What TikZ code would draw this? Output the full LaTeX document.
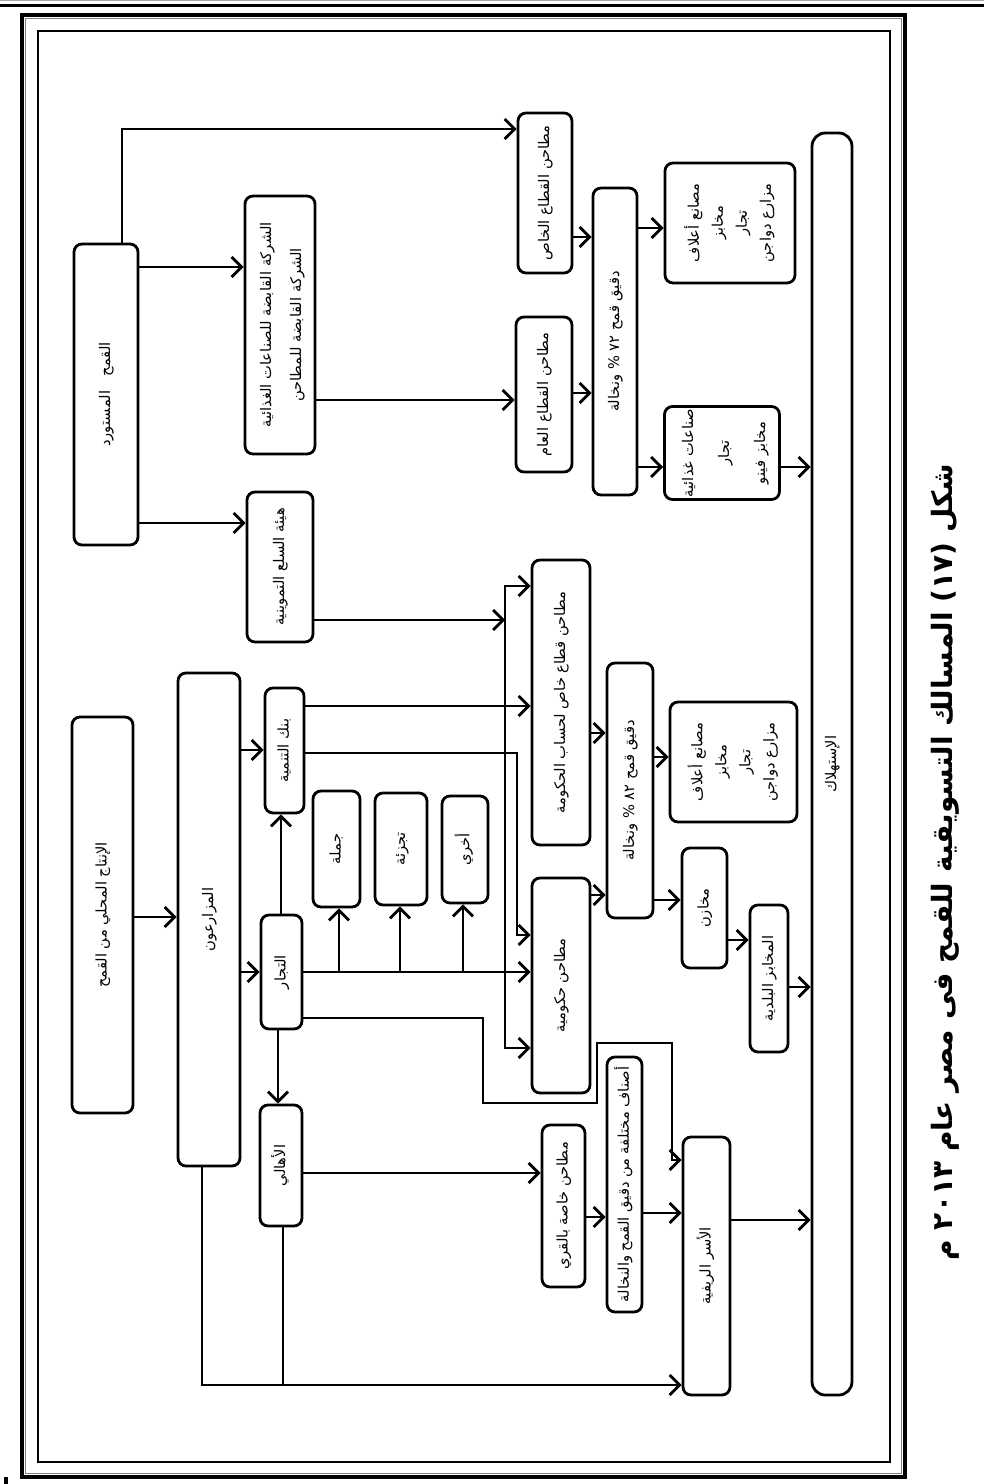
\documentclass[tikz,border=0pt]{standalone}
\usepackage{fontspec}
\usepackage{graphicx}
\usetikzlibrary{arrows.meta}
\newfontfamily\arabicfont[Script=Arabic]{DejaVu Sans}
\TeXXeTstate=1
\newlength{\du}
\setlength{\du}{0.75pt}
\newcommand{\artxt}[1]{\beginR #1\endR}
\newcommand{\vtext}[2][1]{\rotatebox{90}{\renewcommand{\arraystretch}{#1}\begin{tabular}{@{}c@{}}#2\end{tabular}}}
\tikzset{
  box/.style={draw, line width=2.1pt, rounded corners=6pt, inner sep=0pt,
    font=\arabicfont\fontsize{11}{15}\selectfont},
  >={Straight Barb[length=7.5pt,width=15pt]},
  every path/.append style={line width=2.1pt},
}

\begin{document}
\begin{tikzpicture}
\pgftransformxscale{1.000000}
\pgftransformyscale{-1.000000}
\useasboundingbox (0,0) rectangle (984\du,1484\du);
% page frame
\draw[gray!70, line width=0.75pt] (0,1\du) -- (984\du,1\du);
\draw[line width=2.2pt] (0,5.5\du) -- (984\du,5.5\du);
\draw[line width=2.6pt] (22\du,15\du) rectangle (905\du,1477\du);
\draw[gray, line width=0.75pt] (25.5\du,18.5\du) rectangle (901.5\du,1473.5\du);
\draw[line width=1pt] (38\du,31\du) rectangle (890\du,1462\du);
\fill (4\du,1477\du) rectangle (8\du,1484\du);

% imported wheat
\node[box, minimum width=64\du, minimum height=301\du] (imp) at (106\du,394.5\du) {\vtext{\artxt{القمح\quad المستورد}}};
\node[box, minimum width=70\du, minimum height=258\du] (hold) at (280\du,325\du) {\vtext[1.5]{\artxt{الشركة القابضة للصناعات الغذائية}\\ \artxt{الشركة القابضة للمطاحن}}};
\node[box, minimum width=66\du, minimum height=150\du] (gsa) at (280\du,567\du) {\vtext{\artxt{هيئة السلع التموينية}}};
\node[box, minimum width=54\du, minimum height=160\du] (privm) at (545\du,193\du) {\vtext{\artxt{مطاحن القطاع الخاص}}};
\node[box, minimum width=56\du, minimum height=155\du] (pubm) at (544\du,394.5\du) {\vtext{\artxt{مطاحن القطاع العام}}};
\node[box, minimum width=44\du, minimum height=307\du] (fl72) at (615\du,341.5\du) {\vtext{\artxt{دقيق قمح ٧٢ \% ونخالة}}};
\node[box, minimum width=130\du, minimum height=120\du] (feed1) at (730\du,223\du) {\vtext[1.2]{\artxt{مصانع أعلاف}\\ \artxt{مخابز}\\ \artxt{تجار}\\ \artxt{مزارع دواجن}}};
\node[box, minimum width=115\du, minimum height=93\du] (food) at (722\du,453\du) {\vtext[1.8]{\artxt{صناعات غذائية}\\ \artxt{تجار}\\ \artxt{مخابز فينو}}};
\node[box, rounded corners=10pt, minimum width=40\du, minimum height=1262\du] (cons) at (832\du,764\du) {\vtext{\artxt{الإستهلاك}}};

% local production
\node[box, minimum width=61\du, minimum height=396\du] (local) at (102.5\du,915\du) {\vtext{\artxt{الإنتاج المحلي من القمح}}};
\node[box, minimum width=62\du, minimum height=493\du] (farm) at (209\du,919.5\du) {\vtext{\artxt{المزارعون}}};
\node[box, minimum width=39\du, minimum height=125\du] (bank) at (284.5\du,750.5\du) {\vtext{\artxt{بنك التنمية}}};
\node[box, minimum width=41\du, minimum height=114\du] (trad) at (281.5\du,972\du) {\vtext{\artxt{التجار}}};
\node[box, minimum width=42\du, minimum height=121\du] (ahali) at (281\du,1165.5\du) {\vtext{\artxt{الأهالي}}};
\node[box, minimum width=47\du, minimum height=116\du] (whole) at (336.5\du,849\du) {\vtext{\artxt{جملة}}};
\node[box, minimum width=52\du, minimum height=112\du] (retail) at (401\du,849\du) {\vtext{\artxt{تجزئة}}};
\node[box, minimum width=46\du, minimum height=107\du] (other) at (465\du,849.5\du) {\vtext{\artxt{أخري}}};
\node[box, minimum width=58\du, minimum height=285\du] (gpriv) at (561\du,702.5\du) {\vtext{\artxt{مطاحن قطاع خاص لحساب الحكومة}}};
\node[box, minimum width=58\du, minimum height=215\du] (gov) at (561\du,985.5\du) {\vtext{\artxt{مطاحن حكومية}}};
\node[box, minimum width=46\du, minimum height=255\du] (fl82) at (630\du,790.5\du) {\vtext{\artxt{دقيق قمح ٨٢ \% ونخالة}}};
\node[box, minimum width=127\du, minimum height=120\du] (feed2) at (733.5\du,762\du) {\vtext[1.2]{\artxt{مصانع أعلاف}\\ \artxt{مخابز}\\ \artxt{تجار}\\ \artxt{مزارع دواجن}}};
\node[box, minimum width=45\du, minimum height=120\du] (store) at (704.5\du,908\du) {\vtext{\artxt{مخازن}}};
\node[box, minimum width=38\du, minimum height=147\du] (bakery) at (769\du,978.5\du) {\vtext{\artxt{المخابز البلدية}}};
\node[box, minimum width=43\du, minimum height=162\du] (village) at (563.5\du,1206\du) {\vtext{\artxt{مطاحن خاصة بالقري}}};
\node[box, minimum width=35\du, minimum height=255\du] (kinds) at (624.5\du,1184.5\du) {\vtext{\artxt{أصناف مختلفة من دقيق القمح والنخالة}}};
\node[box, minimum width=47\du, minimum height=258\du] (rural) at (706.5\du,1266\du) {\vtext{\artxt{الأسر الريفية}}};

% caption
\node[font=\arabicfont\bfseries\fontsize{21}{25}\selectfont] (cap) at (945\du,862\du) {\rotatebox{90}{\artxt{شكل (١٧) المسالك التسويقية للقمح فى مصر عام ٢٠١٣ م}}};

% imported wheat flows
\draw[->] (imp.north -| 122\du,0) -- (122\du,129\du) -- (privm.west |- 0,129\du);
\draw[->] (imp.east |- 0,267\du) -- (hold.west |- 0,267\du);
\draw[->] (imp.east |- 0,523\du) -- (gsa.west |- 0,523\du);
\draw[->] (hold.east |- 0,400\du) -- (pubm.west |- 0,400\du);
\coordinate (gsaend) at (505\du,620\du);
\draw[->] (gsa.east |- gsaend) -- (gsaend);
\coordinate (bustop) at (505\du,586\du);
\coordinate (busbot) at (505\du,1048\du);
\draw[<->] (gpriv.west |- bustop) -- (bustop) -- (busbot) -- (gov.west |- busbot);
\draw[->] (privm.east |- 0,237\du) -- (fl72.west |- 0,237\du);
\draw[->] (pubm.east |- 0,393\du) -- (fl72.west |- 0,393\du);
\draw[->] (fl72.east |- 0,228\du) -- (feed1.west |- 0,228\du);
\draw[->] (fl72.east |- 0,467\du) -- (food.west |- 0,467\du);
\draw[->] (food.east |- 0,467\du) -- (cons.west |- 0,467\du);

% local flows
\draw[->] (local.east |- 0,917\du) -- (farm.west |- 0,917\du);
\draw[->] (farm.east |- 0,750\du) -- (bank.west |- 0,750\du);
\draw[->] (farm.east |- 0,972\du) -- (trad.west |- 0,972\du);
\draw[->] (trad.north -| 281\du,0) -- (bank.south -| 281\du,0);
\draw[->] (trad.south -| 278\du,0) -- (ahali.north -| 278\du,0);
\draw[->] (trad.east |- 0,972\du) -- (gov.west |- 0,972\du);
\foreach \bx/\xx in {whole/339, retail/400, other/463}
  \draw[->] (\xx\du,972\du) -- (\bx.south -| \xx\du,0);
\draw[->] (bank.east |- 0,706\du) -- (gpriv.west |- 0,706\du);
\draw[->] (bank.east |- 0,753\du) -- (517\du,753\du) -- (517\du,935\du) -- (gov.west |- 0,935\du);
\draw[->] (trad.east |- 0,1018\du) -- (483\du,1018\du) -- (483\du,1103\du) -- (597\du,1103\du)
  -- (597\du,1043\du) -- (672\du,1043\du) -- (672\du,1160\du) -- (rural.west |- 0,1160\du);
\draw[->] (ahali.east |- 0,1173\du) -- (village.west |- 0,1173\du);
\draw[->] (village.east |- 0,1217\du) -- (kinds.west |- 0,1217\du);
\draw[->] (kinds.east |- 0,1213\du) -- (rural.west |- 0,1213\du);
\draw[->] (rural.east |- 0,1220\du) -- (cons.west |- 0,1220\du);
\draw[->] (farm.south -| 202\du,0) -- (202\du,1385\du) -- (rural.west |- 0,1385\du);
\draw (ahali.south -| 283\du,0) -- (283\du,1385\du);
\draw[->] (gpriv.east |- 0,733\du) -- (fl82.west |- 0,733\du);
\draw[->] (gov.east |- 0,895\du) -- (fl82.west |- 0,895\du);
\draw[->] (fl82.east |- 0,757\du) -- (feed2.west |- 0,757\du);
\draw[->] (fl82.east |- 0,900\du) -- (store.west |- 0,900\du);
\draw[->] (store.east |- 0,940\du) -- (bakery.west |- 0,940\du);
\draw[->] (bakery.east |- 0,987\du) -- (cons.west |- 0,987\du);
\end{tikzpicture}
\end{document}
